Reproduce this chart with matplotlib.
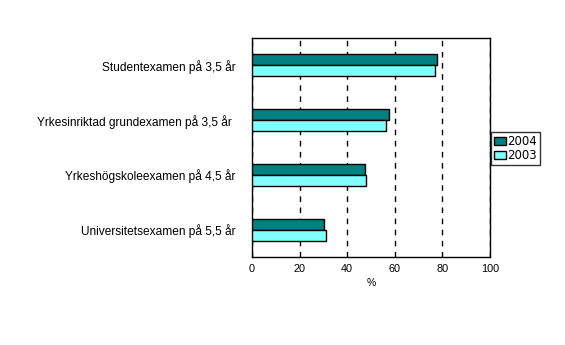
import matplotlib
matplotlib.use("Agg")
import matplotlib.pyplot as plt
import numpy as np

categories = ["Studentexamen på 3,5 år",
              "Yrkesinriktad grundexamen på 3,5 år ",
              "Yrkeshögskoleexamen på 4,5 år",
              "Universitetsexamen på 5,5 år"]
values_2004 = [77.6, 57.4, 47.6, 30.3]
values_2003 = [76.7, 56.5, 48.0, 31.1]
series_labels = ["2004", "2003"]
xticks = [0, 20, 40, 60, 80, 100]

plt.rcParams['font.family'] = ['Liberation Sans', 'DejaVu Sans']

fig = plt.figure(figsize=(5.65, 3.45), dpi=100)
ax = fig.add_axes([252/565, 1-257/345, 238/565, 219/345])

n = len(categories)
y = np.arange(n)
h = 0.2
ax.barh(y - h/2, values_2004, height=h, color="#008080", edgecolor="black",
        linewidth=1.0, label=series_labels[0], zorder=3)
ax.barh(y + h/2, values_2003, height=h, color="#80FFFF", edgecolor="black",
        linewidth=1.0, label=series_labels[1], zorder=3)

ax.set_ylim(n - 0.5, -0.5)
ax.set_xlim(0, 100)
ax.set_xticks(xticks)
ax.set_xticklabels([str(t) for t in xticks], fontsize=7.8)
ax.set_yticks(y)
ax.set_yticklabels(categories, fontsize=8.6)
ax.tick_params(axis='y', length=0, pad=12)
ax.tick_params(axis='x', length=0, pad=5)
ax.xaxis.grid(True, linestyle=(0, (4, 4)), color="black", linewidth=1.0, zorder=0)
for s in ax.spines.values():
    s.set_linewidth(1.0)
    s.set_color("black")
ax.set_xlabel("%", fontsize=7.5, labelpad=3)

leg = ax.legend(loc='upper left', bbox_to_anchor=(491/565, 1-132/345),
                bbox_transform=fig.transFigure,
                prop={'family': 'DejaVu Sans', 'size': 8.5}, frameon=True,
                fancybox=False, edgecolor="black", handlelength=1.0,
                handleheight=0.6, handletextpad=0.15, borderpad=0.25,
                labelspacing=0.1, borderaxespad=0)
leg.get_frame().set_linewidth(1.0)

fig.savefig("out.png", dpi=100)
